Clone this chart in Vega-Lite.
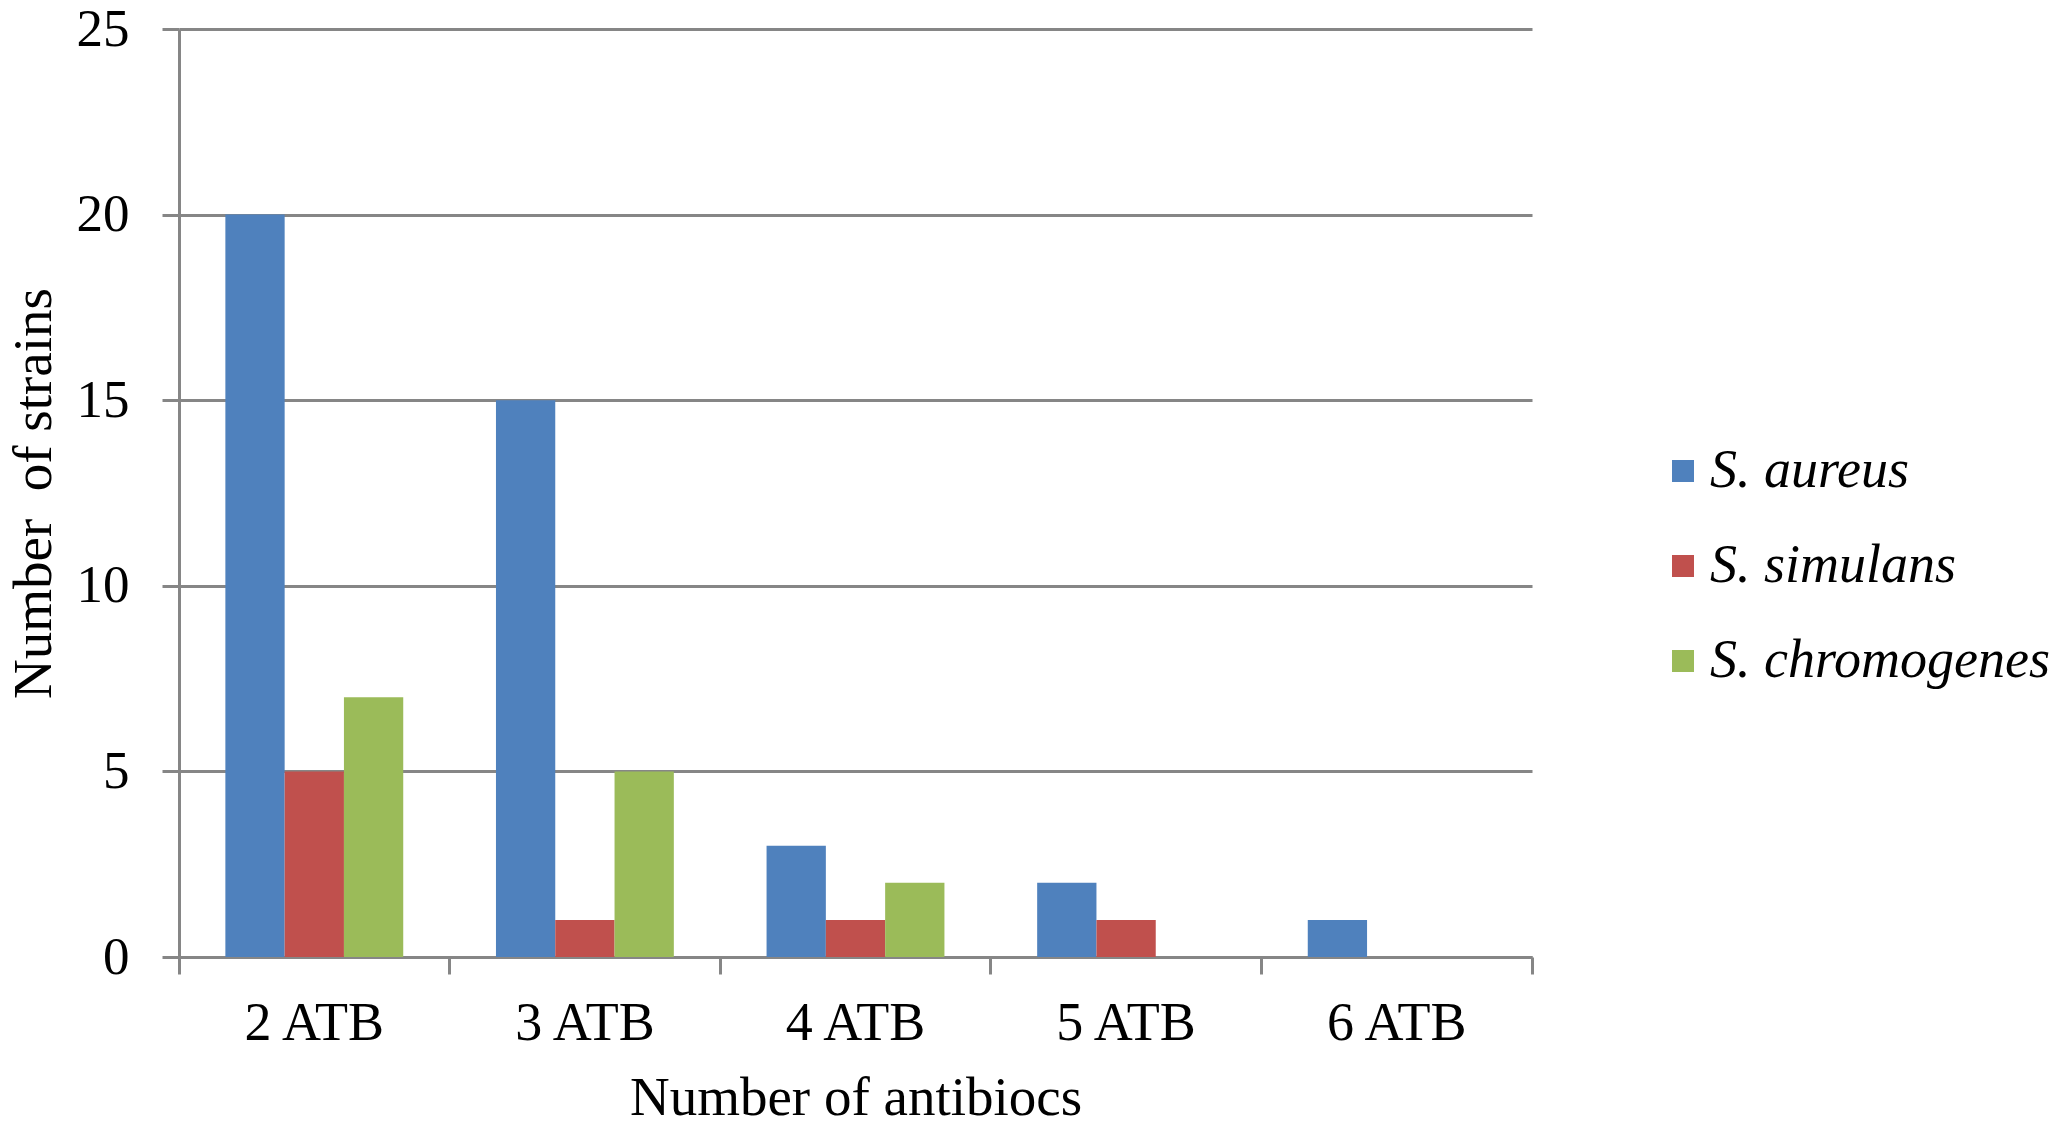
{
  "$schema": "https://vega.github.io/schema/vega-lite/v6.json",
  "width": 1353,
  "height": 928,
  "autosize": {"type": "none"},
  "padding": {"left": 179, "top": 29, "right": 533, "bottom": 171},
  "background": "white",
  "config": {"view": {"stroke": null}, "font": "Liberation Serif"},
  "data": {
    "values": [
      {"atb": "2 ATB", "species": "S. aureus", "n": 20},
      {"atb": "2 ATB", "species": "S. simulans", "n": 5},
      {"atb": "2 ATB", "species": "S. chromogenes", "n": 7},
      {"atb": "3 ATB", "species": "S. aureus", "n": 15},
      {"atb": "3 ATB", "species": "S. simulans", "n": 1},
      {"atb": "3 ATB", "species": "S. chromogenes", "n": 5},
      {"atb": "4 ATB", "species": "S. aureus", "n": 3},
      {"atb": "4 ATB", "species": "S. simulans", "n": 1},
      {"atb": "4 ATB", "species": "S. chromogenes", "n": 2},
      {"atb": "5 ATB", "species": "S. aureus", "n": 2},
      {"atb": "5 ATB", "species": "S. simulans", "n": 1},
      {"atb": "5 ATB", "species": "S. chromogenes", "n": 0},
      {"atb": "6 ATB", "species": "S. aureus", "n": 1},
      {"atb": "6 ATB", "species": "S. simulans", "n": 0},
      {"atb": "6 ATB", "species": "S. chromogenes", "n": 0}
    ]
  },
  "mark": {"type": "bar"},
  "encoding": {
    "x": {
      "field": "atb",
      "type": "nominal",
      "sort": ["2 ATB", "3 ATB", "4 ATB", "5 ATB", "6 ATB"],
      "scale": {"paddingInner": 0, "paddingOuter": 0},
      "axis": {
        "title": "Number of antibiocs",
        "labelAngle": 0,
        "bandPosition": 1,
        "tickExtra": true,
        "domainColor": "#868686",
        "domainWidth": 3,
        "tickColor": "#868686",
        "tickWidth": 3,
        "tickSize": 17,
        "labelFontSize": 54,
        "labelColor": "black",
        "labelPadding": 22,
        "titleFontSize": 55,
        "titleFontWeight": "normal",
        "titleColor": "black",
        "titleY": 140,
        "titleBaseline": "middle",
        "grid": false
      }
    },
    "xOffset": {
      "field": "species",
      "sort": ["S. aureus", "S. simulans", "S. chromogenes"],
      "scale": {"paddingInner": 0, "paddingOuter": 0.782}
    },
    "y": {
      "field": "n",
      "type": "quantitative",
      "scale": {"domain": [0, 25], "nice": false},
      "axis": {
        "values": [0, 5, 10, 15, 20, 25],
        "grid": true,
        "gridColor": "#868686",
        "gridWidth": 3,
        "domainColor": "#868686",
        "domainWidth": 3,
        "tickColor": "#868686",
        "tickWidth": 3,
        "tickSize": 17,
        "labelFontSize": 53,
        "labelColor": "black",
        "labelPadding": 33,
        "title": "Number \u00a0of strains",
        "titleFontSize": 55,
        "titleFontWeight": "normal",
        "titleColor": "black",
        "titleX": -146,
        "titleY": 464,
        "titleAngle": 270,
        "titleAlign": "center",
        "titleBaseline": "middle"
      }
    },
    "color": {
      "field": "species",
      "type": "nominal",
      "scale": {
        "domain": ["S. aureus", "S. simulans", "S. chromogenes"],
        "range": ["#4F81BD", "#C0504D", "#9BBB59"]
      },
      "legend": {
        "title": null,
        "orient": "none",
        "legendX": 1477,
        "legendY": 415,
        "symbolType": "square",
        "symbolSize": 484,
        "symbolStrokeWidth": 0,
        "labelFontSize": 54,
        "labelFontStyle": "italic",
        "labelColor": "black",
        "labelOffset": 0,
        "labelLimit": 0,
        "rowPadding": 41
      }
    }
  }
}
